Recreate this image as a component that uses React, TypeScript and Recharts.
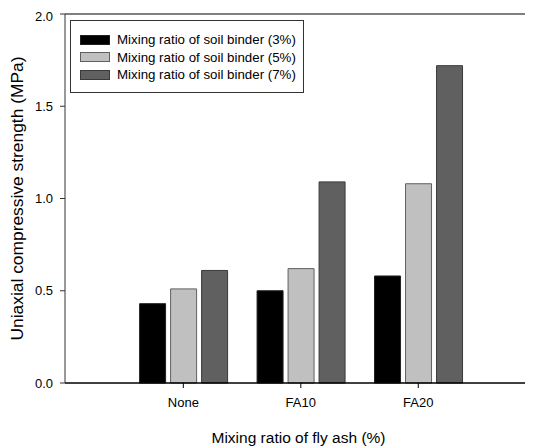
import { BarChart, Bar, XAxis, YAxis, Legend, ReferenceLine } from 'recharts';

const categories = ['None', 'FA10', 'FA20'];
const binder3 = [0.43, 0.5, 0.58];
const binder5 = [0.51, 0.62, 1.08];
const binder7 = [0.61, 1.09, 1.72];
const yTicks = [0, 0.5, 1.0, 1.5, 2.0];

const SERIES = [
  { key: 'b3', name: 'Mixing ratio of soil binder (3%)', fill: '#000000', stroke: '#202020' },
  { key: 'b5', name: 'Mixing ratio of soil binder (5%)', fill: '#c0c0c0', stroke: '#606060' },
  { key: 'b7', name: 'Mixing ratio of soil binder (7%)', fill: '#606060', stroke: '#3a3a3a' },
];

const FONT = '"Liberation Sans", Arial, sans-serif';

const data = categories.map((c, i) => ({
  name: c,
  b3: binder3[i],
  b5: binder5[i],
  b7: binder7[i],
}));

const LegendBox = () => (
  <div
    style={{
      boxSizing: 'border-box',
      width: 234,
      height: 73,
      border: '1px solid #333',
      padding: '10px 0 0 9px',
      background: '#fff',
      fontFamily: FONT,
      fontSize: 13.3,
      color: '#000',
    }}
  >
    {SERIES.map(s => (
      <div key={s.key} style={{ display: 'flex', alignItems: 'center', height: 17.5, whiteSpace: 'nowrap' }}>
        <span
          style={{
            boxSizing: 'border-box',
            display: 'inline-block',
            flex: 'none',
            width: 30,
            height: 10,
            background: s.fill,
            border: `1px solid ${s.stroke}`,
            marginRight: 7,
          }}
        />
        <span>{s.name}</span>
      </div>
    ))}
  </div>
);

const YLabel = (props: any) => {
  const vb = props.viewBox || {};
  const x = 9;
  const y = vb.y + vb.height / 2;
  return (
    <text
      x={x}
      y={y}
      transform={`rotate(-90 ${x} ${y})`}
      textAnchor="middle"
      dominantBaseline="central"
      fontFamily={FONT}
      fontSize={16}
      textLength={284}
      lengthAdjust="spacingAndGlyphs"
      fill="#000"
    >
      Uniaxial compressive strength (MPa)
    </text>
  );
};

export default function App() {
  // the page keeps its 8px body margin, so the chart is sized to the remaining area
  return (
    <BarChart
      width={525}
      height={438}
      data={data}
      margin={{ top: 6, right: 1, bottom: 0, left: 0 }}
      barSize={26}
      barGap={5}
      style={{ fontFamily: FONT }}
    >
      <XAxis
        dataKey="name"
        height={63}
        padding={{ left: 59.6, right: 55 }}
        axisLine={{ stroke: '#000', strokeWidth: 1.5 }}
        tickLine={{ stroke: '#000' }}
        tickSize={5}
        tickMargin={10}
        tick={{ fill: '#000', fontSize: 13, fontFamily: FONT }}
        label={{
          value: 'Mixing ratio of fly ash (%)',
          position: 'insideBottom',
          offset: 3,
          fill: '#000',
          fontSize: 15.5,
          fontFamily: FONT,
        }}
      />
      <YAxis
        width={57}
        domain={[0, 2]}
        ticks={yTicks}
        tickFormatter={(v: number) => v.toFixed(1)}
        axisLine={{ stroke: '#333' }}
        tickLine={{ stroke: '#333' }}
        tickSize={5}
        tickMargin={7}
        tick={{ fill: '#000', fontSize: 13, fontFamily: FONT }}
        label={<YLabel />}
      />
      <ReferenceLine y={2} stroke="#555" strokeWidth={1.5} />
      <Legend
        layout="vertical"
        verticalAlign="middle"
        align="center"
        content={() => <LegendBox />}
        wrapperStyle={{ left: 62, top: 12, width: 234, height: 73 }}
      />
      {SERIES.map(s => (
        <Bar
          key={s.key}
          dataKey={s.key}
          name={s.name}
          fill={s.fill}
          stroke={s.stroke}
          strokeWidth={1}
          isAnimationActive={false}
        />
      ))}
    </BarChart>
  );
}
